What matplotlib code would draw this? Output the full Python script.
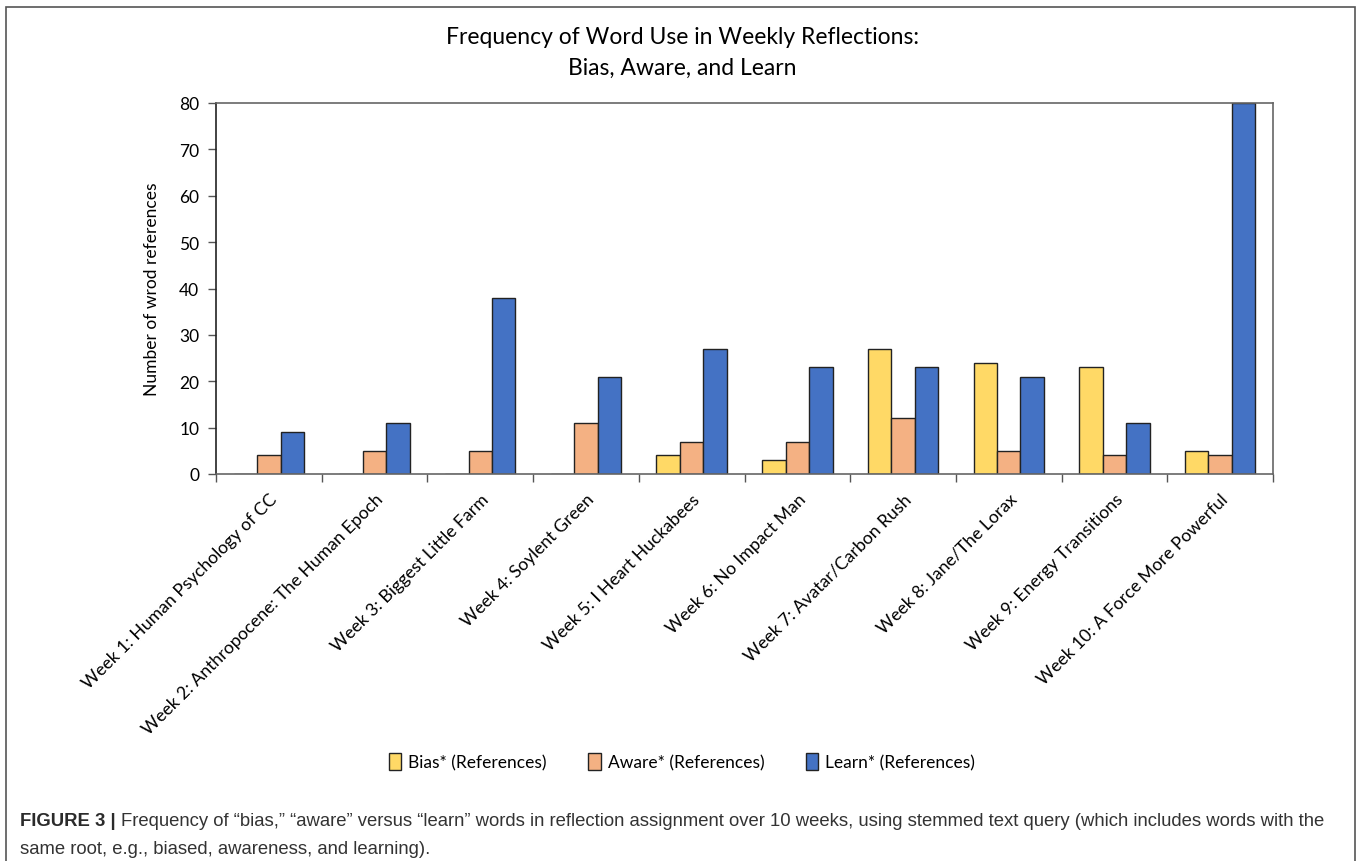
import numpy as np
import matplotlib
matplotlib.use('Agg')
import matplotlib.pyplot as plt
from matplotlib.patches import Rectangle

# --- Data ---
semanas = [
    'Week 1: Human Psychology of CC',
    'Week 2: Anthropocene: The Human Epoch',
    'Week 3: Biggest Little Farm',
    'Week 4: Soylent Green',
    'Week 5: I Heart Huckabees',
    'Week 6: No Impact Man',
    'Week 7: Avatar/Carbon Rush',
    'Week 8: Jane/The Lorax',
    'Week 9: Energy Transitions',
    'Week 10: A Force More Powerful',
]
bias = [0, 0, 0, 0, 4, 3, 27, 24, 23, 5]
aware = [4, 5, 5, 11, 7, 7, 12, 5, 4, 4]
learn = [9, 11, 38, 21, 27, 23, 23, 21, 11, 80]
series_labels = ['Bias* (References)', 'Aware* (References)', 'Learn* (References)']
colores = ['#FFD966', '#F4B183', '#4472C4']

FUENTE = 'Lato'

# --- Figure ---
fig = plt.figure(figsize=(13.57, 8.62), dpi=100)
W, H = 1357, 862

# outer frame
fig.patches.append(Rectangle((6 / W, -0.01), (1355 - 6) / W, 1 - 8 / H + 0.01,
                             transform=fig.transFigure, fill=False,
                             edgecolor='#555555', linewidth=1.2))

ax = fig.add_axes([216 / W, 1 - 475 / H, (1273 - 216) / W, (475 - 104) / H])

x = np.arange(len(semanas))
ancho = 0.222
for k, (vals, lab, col) in enumerate(zip([bias, aware, learn], series_labels, colores)):
    ax.bar(x + (k - 1) * ancho, vals, ancho, color=col, edgecolor='#222222',
           linewidth=1.0, label=lab, zorder=2)

ax.set_xlim(-0.5, len(semanas) - 0.5)
ax.set_ylim(0, 80)
ax.set_yticks(range(0, 81, 10))
ax.set_yticklabels([str(v) for v in range(0, 81, 10)], fontfamily=FUENTE, fontsize=12.5)
ax.set_xticks(x)
ax.set_xticklabels(semanas, rotation=45, ha='right', rotation_mode='anchor',
                   fontfamily=FUENTE, fontsize=12.7)
ax.tick_params(axis='x', length=0, pad=12)
ax.set_xticks(np.arange(-0.5, len(semanas), 1.0), minor=True)
ax.tick_params(axis='x', which='minor', length=6, color='#555555', width=1)
ax.tick_params(axis='y', length=6, color='#555555', width=1, pad=6)
for s in ax.spines.values():
    s.set_color('#666666')
    s.set_linewidth(1.2)
ax.spines['left'].set_color('#222222')

ax.set_ylabel('Number of wrod references', fontfamily=FUENTE, fontsize=12.5, labelpad=14)

fig.text(682 / W, 1 - 38 / H, 'Frequency of Word Use in Weekly Reflections:',
         ha='center', va='center', fontfamily=FUENTE, fontsize=16.5)
fig.text(682 / W, 1 - 68 / H, 'Bias, Aware, and Learn',
         ha='center', va='center', fontfamily=FUENTE, fontsize=16.5)

fig.legend(loc='center', bbox_to_anchor=(682 / W, 1 - 763 / H), ncol=3, frameon=False,
           prop={'family': FUENTE, 'size': 12.5}, handlelength=0.7, handleheight=1.1,
           columnspacing=2.4, handletextpad=0.4)

# --- Caption ---
fig.canvas.draw()
rend = fig.canvas.get_renderer()
t1 = fig.text(20 / W, 1 - 822 / H, 'FIGURE 3 | ', fontfamily='Liberation Sans',
              fontsize=13.3, fontweight='bold', color='#2b2b2b', va='center')
bb = t1.get_window_extent(renderer=rend)
fig.text(bb.x1 / W, 1 - 822 / H,
         'Frequency of \u201cbias,\u201d \u201caware\u201d versus \u201clearn\u201d words in reflection '
         'assignment over 10 weeks, using stemmed text query (which includes words with the',
         fontfamily='Liberation Sans', fontsize=13.3, color='#333333', va='center')
fig.text(20 / W, 1 - 850 / H, 'same root, e.g., biased, awareness, and learning).',
         fontfamily='Liberation Sans', fontsize=13.3, color='#333333', va='center')

fig.savefig('out.png', dpi=100)
